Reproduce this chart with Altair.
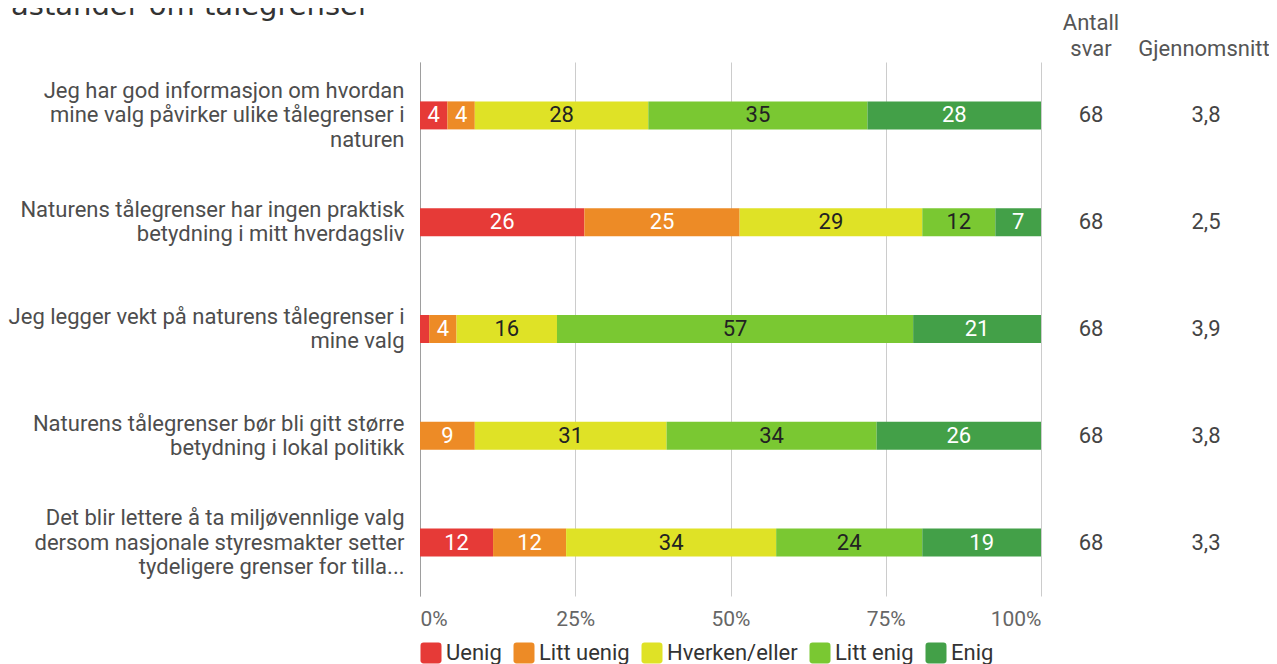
import altair as alt
import pandas as pd

statements = [
    "Jeg har god informasjon om hvordan|mine valg påvirker ulike tålegrenser i|naturen",
    "Naturens tålegrenser har ingen praktisk|betydning i mitt hverdagsliv",
    "Jeg legger vekt på naturens tålegrenser i|mine valg",
    "Naturens tålegrenser bør bli gitt større|betydning i lokal politikk",
    "Det blir lettere å ta miljøvennlige valg|dersom nasjonale styresmakter setter|tydeligere grenser for tilla...",
]
categories = ["Uenig", "Litt uenig", "Hverken/eller", "Litt enig", "Enig"]
colors = ["#e63a37", "#ed8b26", "#dfe226", "#7ac832", "#43a048"]

# number of answers per category (68 respondents per statement)
uenig = [3, 18, 1, 0, 8]
litt_uenig = [3, 17, 3, 6, 8]
hverken = [19, 20, 11, 21, 23]
litt_enig = [24, 8, 39, 23, 16]
enig = [19, 5, 14, 18, 13]

antall_svar = ["68", "68", "68", "68", "68"]
gjennomsnitt = ["3,8", "2,5", "3,9", "3,8", "3,3"]

# only the lower part of the title's last line is visible at the top edge
title_text = ["åstander om tålegrenser"]
header_antall = ["Antall", "svar"]
header_snitt = "Gjennomsnitt"

series = [uenig, litt_uenig, hverken, litt_enig, enig]
rows = []
for ci, (cat, vals) in enumerate(zip(categories, series)):
    for si, st in enumerate(statements):
        rows.append({"statement": st, "category": cat, "order": ci, "count": vals[si]})
df = pd.DataFrame(rows)

side = pd.DataFrame({"statement": statements, "antall": antall_svar, "snitt": gjennomsnitt})

FONT = "Roboto"
rounded = "M-1,-0.7Q-1,-1,-0.7,-1L0.7,-1Q1,-1,1,-0.7L1,0.7Q1,1,0.7,1L-0.7,1Q-1,1,-1,0.7Z"

yscale = alt.Scale(domain=statements, paddingInner=0, paddingOuter=0)

base = alt.Chart(df).transform_joinaggregate(
    total="sum(count)", groupby=["statement"]
).transform_calculate(
    pct="datum.count / datum.total"
).transform_stack(
    stack="pct", groupby=["statement"], as_=["x0", "x1"],
    sort=[alt.SortField("order", order="ascending")]
).transform_calculate(
    mid="(datum.x0 + datum.x1) / 2",
    label="datum.pct * 100 >= 3 ? format(datum.pct * 100, '.0f') : ''"
)

bars = base.mark_bar(size=28).encode(
    x=alt.X(
        "x0:Q",
        scale=alt.Scale(domain=[0, 1], nice=False),
        axis=alt.Axis(
            values=[0, 0.25, 0.5, 0.75, 1], format="%", grid=True, gridColor="#cccccc",
            domain=False, ticks=False, labelPadding=12, labelFont=FONT, labelFontSize=21,
            labelColor="#666666", title=None, labelFlush=True,
        ),
    ),
    x2="x1:Q",
    y=alt.Y(
        "statement:N", sort=statements, scale=yscale,
        axis=alt.Axis(
            title=None, ticks=False, domain=True, domainColor="#9e9e9e",
            labelExpr="split(datum.label, '|')", labelFont=FONT, labelFontSize=22,
            labelColor="#4d4d4d", labelPadding=16, labelLimit=0, labelLineHeight=24.5,
            labelAlign="right", labelBaseline="middle", grid=False,
            labelOffset=alt.condition(
                "length(split(datum.value, '|')) > 2", alt.value(-24.5), alt.value(-12.25)
            ),
        ),
    ),
    color=alt.Color(
        "category:N", sort=categories,
        scale=alt.Scale(domain=categories, range=colors),
        legend=alt.Legend(
            title=None, orient="none", direction="horizontal", legendX=0, legendY=580,
            symbolType=rounded, symbolSize=441, symbolStrokeWidth=0, symbolOpacity=1,
            labelFont=FONT, labelFontSize=22, labelColor="#333333", labelOffset=4,
            columnPadding=11, padding=0,
        ),
    ),
    order=alt.Order("order:Q"),
)

texts = base.mark_text(font=FONT, fontSize=22, align="center", baseline="middle").encode(
    x="mid:Q",
    y=alt.Y("statement:N", sort=statements, scale=yscale),
    text="label:N",
    color=alt.condition(
        alt.FieldOneOfPredicate(field="category", oneOf=["Hverken/eller", "Litt enig"]),
        alt.value("#222222"),
        alt.value("#ffffff"),
    ),
)

antall_txt = alt.Chart(side).mark_text(
    font=FONT, fontSize=22, color="#444444", align="center", baseline="middle"
).encode(
    x=alt.value(671),
    y=alt.Y("statement:N", sort=statements, scale=yscale),
    text="antall:N",
)

snitt_txt = alt.Chart(side).mark_text(
    font=FONT, fontSize=22, color="#444444", align="center", baseline="middle"
).encode(
    x=alt.value(786),
    y=alt.Y("statement:N", sort=statements, scale=yscale),
    text="snitt:N",
)

h1 = alt.Chart(pd.DataFrame({"t": [header_antall[0]]})).mark_text(
    font=FONT, fontSize=22, color="#555555", align="center", baseline="middle"
).encode(x=alt.value(671), y=alt.value(-39), text="t:N")
h2 = alt.Chart(pd.DataFrame({"t": [header_antall[1]]})).mark_text(
    font=FONT, fontSize=22, color="#555555", align="center", baseline="middle"
).encode(x=alt.value(671), y=alt.value(-13), text="t:N")
h3 = alt.Chart(pd.DataFrame({"t": [header_snitt]})).mark_text(
    font=FONT, fontSize=22, color="#555555", align="center", baseline="middle"
).encode(x=alt.value(784), y=alt.value(-13), text="t:N")

title_mark = alt.Chart(pd.DataFrame({"t": title_text})).mark_text(
    font="DejaVu Sans", fontSize=29, color="#333333", align="left", baseline="alphabetic"
).encode(x=alt.value(-409), y=alt.value(-47), text="t:N")

chart = alt.layer(bars, texts, antall_txt, snitt_txt, h1, h2, h3, title_mark).properties(
    width=621,
    height=534,
    autosize=alt.AutoSizeParams(type="none"),
    padding={"left": 412, "top": 54, "right": 228, "bottom": 68},
).configure_view(strokeWidth=0)

chart.save("out.html", embed_options={"renderer": "svg", "actions": False})
